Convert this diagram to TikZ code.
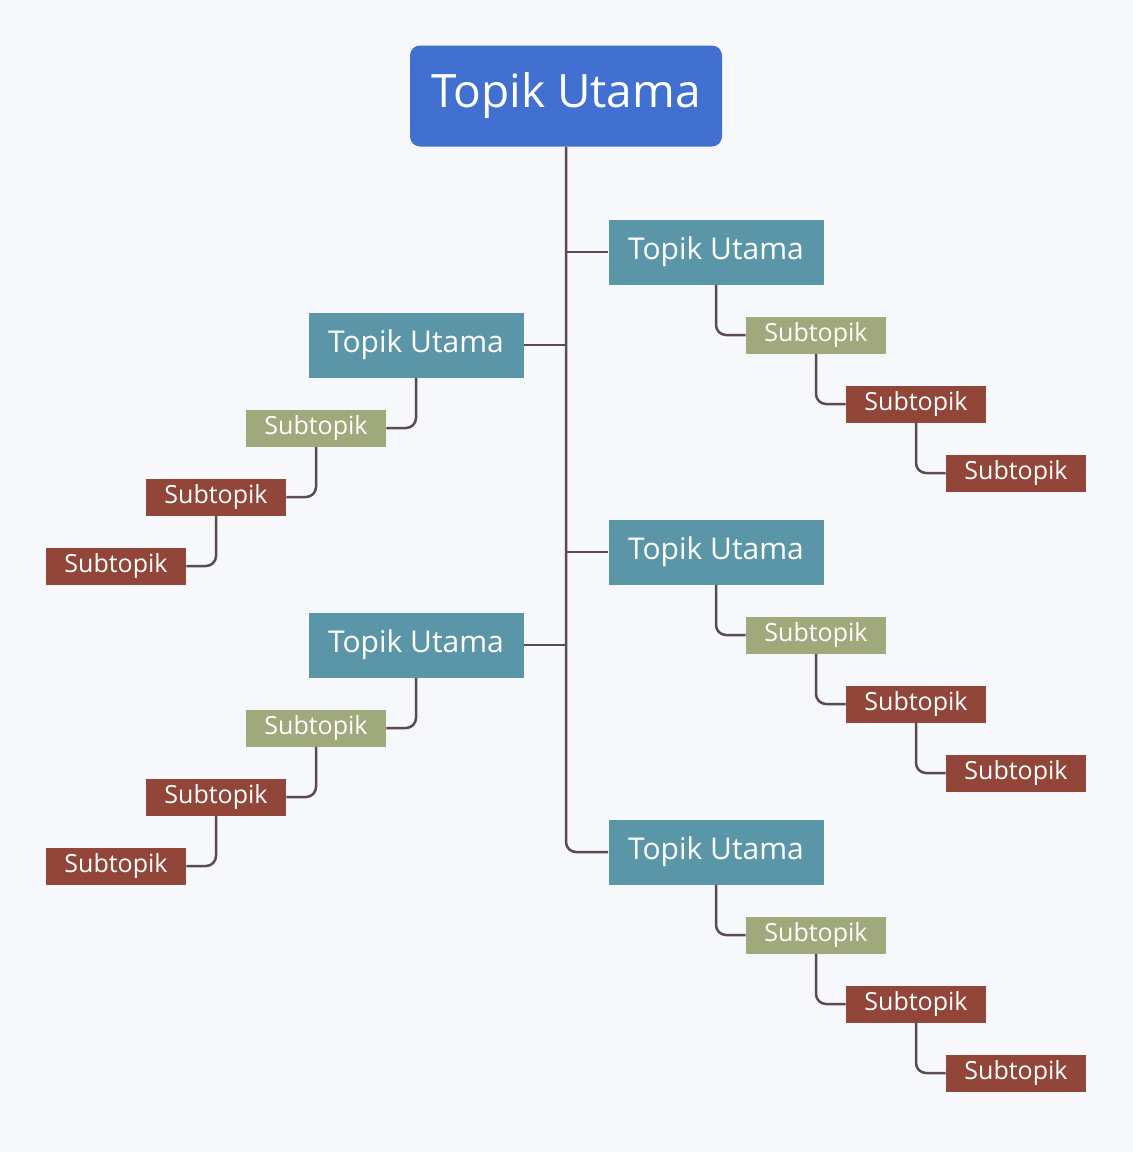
\documentclass[tikz,border=0pt]{standalone}
\usepackage{fontspec}
\setmainfont{Open Sans}
\usetikzlibrary{positioning}
\definecolor{bgcol}{RGB}{246,248,252}
\definecolor{rootblue}{RGB}{65,112,208}
\definecolor{topteal}{RGB}{90,149,168}
\definecolor{subgreen}{RGB}{160,169,124}
\definecolor{subred}{RGB}{146,70,58}
\definecolor{linkcol}{RGB}{92,74,80}

\begin{document}
\begin{tikzpicture}[x=0.5pt,y=-0.5pt,
  rootbox/.style={fill=rootblue,rounded corners=5pt,text=white,minimum width=156pt,minimum height=50.5pt,font=\fontsize{23}{26}\selectfont},
  topbox/.style={fill=topteal,text=white,minimum width=107.5pt,minimum height=32.5pt,font=\fontsize{15}{18}\selectfont},
  greenbox/.style={fill=subgreen,text=white,minimum width=70pt,minimum height=18.5pt,inner sep=0pt,font=\fontsize{12.5}{14}\selectfont},
  redbox/.style={fill=subred,text=white,minimum width=70pt,minimum height=18.5pt,inner sep=0pt,font=\fontsize{12.5}{14}\selectfont},
  link/.style={draw=linkcol,line width=1.25pt,rounded corners=5pt}]

  \fill[bgcol] (0,0) rectangle (1133,1152);

  \node[rootbox] (root) at (566,96) {Topik Utama};

  % right side branches
  \foreach \n/\y in {a/252,b/552,c/852}{
    \node[topbox] (r\n) at (716,\y) {Topik Utama};
    \node[greenbox] (r\n1) at (816,\y+83) {Subtopik};
    \node[redbox] (r\n2) at (916,\y+152) {Subtopik};
    \node[redbox] (r\n3) at (1016,\y+221) {Subtopik};
    \draw[link] (r\n.south) |- (r\n1.west);
    \draw[link] (r\n1.south) |- (r\n2.west);
    \draw[link] (r\n2.south) |- (r\n3.west);
  }

  % left side branches
  \foreach \n/\y in {a/345,b/645}{
    \node[topbox] (l\n) at (416,\y) {Topik Utama};
    \node[greenbox] (l\n1) at (316,\y+83) {Subtopik};
    \node[redbox] (l\n2) at (216,\y+152) {Subtopik};
    \node[redbox] (l\n3) at (116,\y+221) {Subtopik};
    \draw[link] (l\n.south) |- (l\n1.east);
    \draw[link] (l\n1.south) |- (l\n2.east);
    \draw[link] (l\n2.south) |- (l\n3.east);
  }

  % trunk
  \draw[link] (root.south) |- (rc.west);
  \draw[link,rounded corners=0pt] (ra.west) -- (ra.west -| root.south);
  \draw[link,rounded corners=0pt] (rb.west) -- (rb.west -| root.south);
  \draw[link,rounded corners=0pt] (la.east) -- (la.east -| root.south);
  \draw[link,rounded corners=0pt] (lb.east) -- (lb.east -| root.south);
\end{tikzpicture}
\end{document}
